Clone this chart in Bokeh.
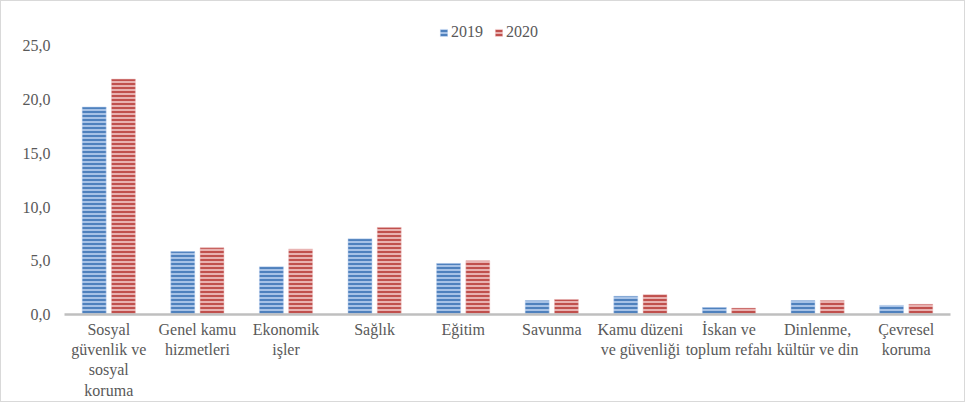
from bokeh.plotting import figure
from bokeh.models import ColumnDataSource, FixedTicker, Legend, LegendItem, FactorRange, Range1d
from bokeh.transform import dodge
from bokeh.embed import file_html
from bokeh.resources import INLINE

categories = ["Sosyal\ngüvenlik ve\nsosyal\nkoruma", "Genel kamu\nhizmetleri", "Ekonomik\nişler",
              "Sağlık", "Eğitim", "Savunma", "Kamu düzeni\nve güvenliği",
              "İskan ve\ntoplum refahı", "Dinlenme,\nkültür ve din", "Çevresel\nkoruma"]
values_2019 = [19.3, 5.85, 4.45, 7.05, 4.75, 1.3, 1.7, 0.65, 1.3, 0.85]
values_2020 = [21.9, 6.2, 6.1, 8.1, 5.0, 1.4, 1.85, 0.6, 1.3, 0.95]
y_ticks = [0, 5, 10, 15, 20, 25]
y_tick_labels = ["0,0", "5,0", "10,0", "15,0", "20,0", "25,0"]

src = ColumnDataSource(dict(cat=categories, v19=values_2019, v20=values_2020))

FONT = "Liberation Serif"
TXT = "#595959"
FS = "16px"

p = figure(frame_width=886, frame_height=301, output_backend="svg", toolbar_location=None,
           x_range=FactorRange(*categories, range_padding=0), y_range=Range1d(0, 28),
           min_border_left=63, min_border_right=14, min_border_top=12, min_border_bottom=80)
p.styles = {"border": "1px solid #d9d9d9"}
p.outline_line_color = None
p.grid.visible = False

r19 = p.vbar(x=dodge("cat", -0.165, range=p.x_range), top="v19", width=0.27, source=src,
             fill_color="#A7C2E6", line_color="#B9CFEC", line_width=0.5,
             hatch_pattern="horizontal_line", hatch_color="#4F81BD", hatch_scale=4, hatch_weight=2)
r20 = p.vbar(x=dodge("cat", 0.165, range=p.x_range), top="v20", width=0.27, source=src,
             fill_color="#E8B1B0", line_color="#EDC3C2", line_width=0.5,
             hatch_pattern="horizontal_line", hatch_color="#C0504D", hatch_scale=4, hatch_weight=2)

# y axis
ya = p.yaxis[0]
ya.ticker = FixedTicker(ticks=y_ticks)
ya.major_label_overrides = {t: l for t, l in zip(y_ticks, y_tick_labels)}
ya.axis_line_color = None
ya.major_tick_line_color = None
ya.minor_tick_line_color = None
ya.major_label_text_font = FONT
ya.major_label_text_font_size = FS
ya.major_label_text_color = TXT
ya.major_label_standoff = 8

# x axis
xa = p.xaxis[0]
xa.axis_line_color = "#BFBFBF"
xa.axis_line_width = 2.5
xa.major_tick_line_color = None
xa.minor_tick_line_color = None
xa.major_label_text_font = FONT
xa.major_label_text_font_size = FS
xa.major_label_text_color = TXT
xa.major_label_text_line_height = 1.2
xa.major_label_standoff = 0

legend = Legend(items=[LegendItem(label="2019", renderers=[r19]), LegendItem(label="2020", renderers=[r20])],
                orientation="horizontal", location=(375, 273), padding=0, margin=0,
                glyph_width=9, glyph_height=9, label_standoff=3, spacing=11,
                label_text_font=FONT, label_text_font_size=FS, label_text_color=TXT,
                border_line_color=None, background_fill_alpha=0)
p.add_layout(legend, "center")

open("out.html", "w").write(file_html(p, INLINE))
